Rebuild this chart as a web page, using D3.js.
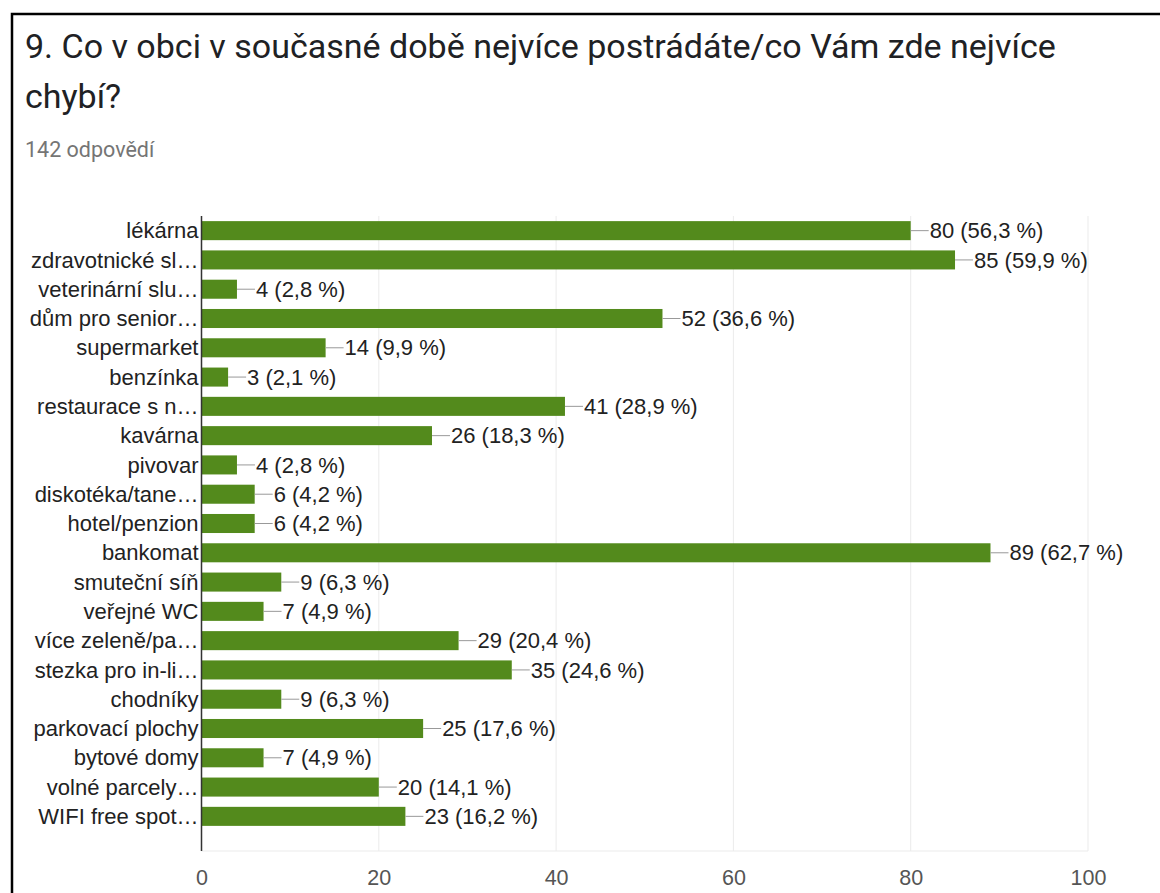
<!DOCTYPE html>
<html>
<head>
<meta charset="utf-8">
<script src="https://cdn.jsdelivr.net/npm/d3@7"></script>
<style>
  html, body { margin: 0; padding: 0; background: #fff; }
  svg { display: block; }
</style>
</head>
<body>
<svg id="chart" width="1160" height="893"></svg>
<script>
const categories = [
  "lékárna", "zdravotnické sl…", "veterinární slu…", "dům pro senior…", "supermarket",
  "benzínka", "restaurace s n…", "kavárna", "pivovar", "diskotéka/tane…",
  "hotel/penzion", "bankomat", "smuteční síň", "veřejné WC", "více zeleně/pa…",
  "stezka pro in-li…", "chodníky", "parkovací plochy", "bytové domy", "volné parcely…",
  "WIFI free spot…"
];
const counts = [80, 85, 4, 52, 14, 3, 41, 26, 4, 6, 6, 89, 9, 7, 29, 35, 9, 25, 7, 20, 23];
const percents = ["56,3", "59,9", "2,8", "36,6", "9,9", "2,1", "28,9", "18,3", "2,8", "4,2",
  "4,2", "62,7", "6,3", "4,9", "20,4", "24,6", "6,3", "17,6", "4,9", "14,1", "16,2"];
const xTicks = [0, 20, 40, 60, 80, 100];
const titleLines = ["9. Co v obci v současné době nejvíce postrádáte/co Vám zde nejvíce", "chybí?"];
const subtitle = "142 odpovědí";

const svg = d3.select("#chart");

// frame
svg.append("rect").attr("x", 12).attr("y", 14).attr("width", 1170).attr("height", 900)
  .attr("fill", "none").attr("stroke", "#000").attr("stroke-width", 2.5);

// title
svg.selectAll("text.title").data(titleLines).join("text")
  .attr("class", "title")
  .attr("x", 25).attr("y", (d, i) => 58 + i * 50)
  .attr("font-family", "Roboto, 'Noto Sans', sans-serif")
  .attr("font-size", 34).attr("fill", "#202124")
  .text(d => d);

svg.append("text").attr("x", 25).attr("y", 157)
  .attr("font-family", "Roboto, sans-serif").attr("font-size", 21.5)
  .attr("fill", "#757575").text(subtitle);

const x = d3.scaleLinear().domain([0, 100]).range([201.5, 1088]);
const y = d3.scaleBand().domain(categories).range([216, 831])
  .paddingInner(0.35).paddingOuter(0.175);
const gridBottom = 851;

const font = "'Liberation Sans', Arial, sans-serif";

// gridlines
const g = svg.append("g");
g.selectAll("line.grid").data(xTicks.slice(1)).join("line")
  .attr("x1", d => x(d)).attr("x2", d => x(d))
  .attr("y1", 216).attr("y2", gridBottom)
  .attr("stroke", "#ebebeb").attr("stroke-width", 1);
g.append("line").attr("x1", x(0)).attr("x2", x(100))
  .attr("y1", gridBottom).attr("y2", gridBottom)
  .attr("stroke", "#ebebeb").attr("stroke-width", 1);

// x axis labels via d3 axis
const axis = d3.axisBottom(x).tickValues(xTicks).tickSize(0).tickPadding(0).tickFormat(d3.format("d"));
const ax = svg.append("g").attr("transform", `translate(0, ${gridBottom + 19})`).call(axis);
ax.select(".domain").remove();
ax.selectAll("text").attr("font-family", font).attr("font-size", 21.5).attr("fill", "#555");

// bars
const rows = categories.map((c, i) => ({ c, v: counts[i], p: percents[i] }));
svg.append("g").selectAll("rect").data(rows).join("rect")
  .attr("x", x(0)).attr("y", d => y(d.c))
  .attr("width", d => x(d.v) - x(0)).attr("height", y.bandwidth())
  .attr("fill", "#538a1c");

// baseline axis
svg.append("line").attr("x1", x(0)).attr("x2", x(0)).attr("y1", 216).attr("y2", gridBottom)
  .attr("stroke", "#333").attr("stroke-width", 1.5);

// category labels
svg.append("g").selectAll("text").data(rows).join("text")
  .attr("x", x(0) - 3).attr("y", d => y(d.c) + y.bandwidth() / 2)
  .attr("dy", "0.35em").attr("text-anchor", "end")
  .attr("font-family", font).attr("font-size", 22).attr("fill", "#222")
  .text(d => d.c);

// value leader lines + labels
const lab = svg.append("g");
lab.selectAll("line").data(rows).join("line")
  .attr("x1", d => x(d.v)).attr("x2", d => x(d.v) + 18)
  .attr("y1", d => y(d.c) + y.bandwidth() / 2).attr("y2", d => y(d.c) + y.bandwidth() / 2)
  .attr("stroke", "#999").attr("stroke-width", 1);
lab.selectAll("text").data(rows).join("text")
  .attr("x", d => x(d.v) + 19).attr("y", d => y(d.c) + y.bandwidth() / 2)
  .attr("dy", "0.35em")
  .attr("font-family", font).attr("font-size", 22).attr("fill", "#222")
  .text(d => `${d.v} (${d.p} %)`);
</script>
</body>
</html>
